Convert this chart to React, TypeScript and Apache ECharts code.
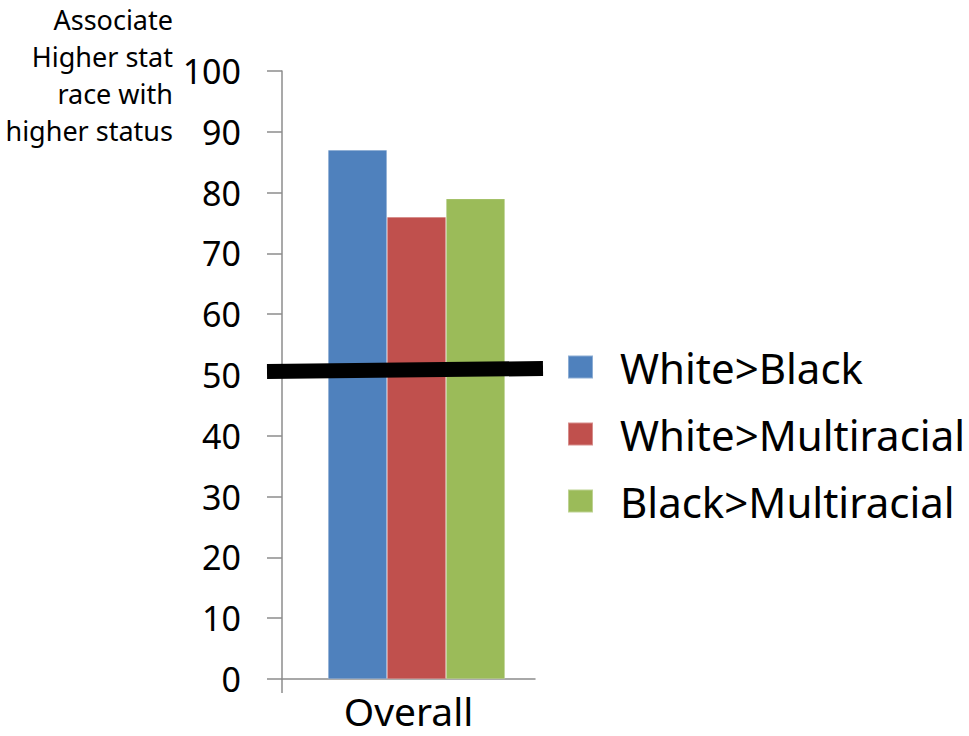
import React, { useEffect, useRef } from 'react';
import * as echarts from 'echarts';

const categories = ['Overall'];
const seriesNames = ['White>Black', 'White>Multiracial', 'Black>Multiracial'];
const whiteBlack = [87];
const whiteMultiracial = [76];
const blackMultiracial = [79];
const seriesColors = ['#4F81BD', '#C0504D', '#9BBB59'];
const yMin = 0;
const yMax = 100;
const yInterval = 10;
const referenceLevel = 50;
const titleLines = ['Associate', 'Higher stat', 'race with', 'higher status'];

const FONT = '"Noto Sans", "Open Sans", sans-serif';

export default function App() {
  const ref = useRef<HTMLDivElement>(null);

  useEffect(() => {
    if (!ref.current) return;
    const chart = echarts.init(ref.current, undefined, { renderer: 'svg' });
    const values = [whiteBlack, whiteMultiracial, blackMultiracial];
    const axisColor = '#8c8c8c';

    chart.setOption({
      animation: false,
      backgroundColor: '#ffffff',
      textStyle: { fontFamily: FONT },
      grid: [
        { left: 282, top: 71, width: 253, height: 608, containLabel: false },
        { left: 282, top: 71, width: 269, height: 608, containLabel: false },
      ],
      legend: {
        orient: 'vertical',
        left: 567,
        top: 345,
        padding: 0,
        icon: 'rect',
        itemWidth: 25,
        itemHeight: 23,
        itemGap: 23,
        data: seriesNames,
        textStyle: { fontFamily: FONT, fontSize: 42, color: '#000', padding: [0, 0, 0, 22], lineHeight: 44 },
      },
      xAxis: [
        {
          gridIndex: 0,
          type: 'category',
          data: categories,
          axisLine: { show: true, lineStyle: { color: axisColor, width: 1.5 } },
          axisTick: { show: false },
          axisLabel: { fontFamily: FONT, fontSize: 39, color: '#000', margin: 12, lineHeight: 39 },
        },
        { gridIndex: 1, type: 'category', data: categories, show: false },
      ],
      yAxis: [
        {
          gridIndex: 0,
          type: 'value',
          min: yMin,
          max: yMax,
          interval: yInterval,
          splitLine: { show: false },
          axisLine: { show: true, lineStyle: { color: axisColor, width: 1.5 } },
          axisTick: { show: true, length: 15, inside: false, lineStyle: { color: axisColor, width: 1.5 } },
          axisLabel: { fontFamily: FONT, fontSize: 34, color: '#000', margin: 41 },
        },
        { gridIndex: 1, type: 'value', min: yMin, max: yMax, show: false },
      ],
      series: seriesNames.map((name, i) => ({
        name,
        type: 'bar',
        xAxisIndex: 1,
        yAxisIndex: 1,
        data: values[i],
        barWidth: 59,
        barGap: '0%',
        itemStyle: { color: seriesColors[i], borderColor: 'rgba(255,255,255,0.35)', borderWidth: 0.6 },
      })),
    });

    const y0 = chart.convertToPixel({ yAxisIndex: 0 }, yMin) as number;
    const y50 = chart.convertToPixel({ yAxisIndex: 0 }, referenceLevel) as number;

    chart.setOption({
      graphic: [
        {
          type: 'line',
          shape: { x1: 282, y1: y0, x2: 282, y2: y0 + 14 },
          style: { stroke: axisColor, lineWidth: 1.5 },
        },
        {
          type: 'line',
          z: 100,
          shape: { x1: 267, y1: y50 - 3.5, x2: 543, y2: y50 - 6.5 },
          style: { stroke: '#000', lineWidth: 15, lineCap: 'butt' },
        },
        {
          type: 'text',
          x: 173,
          y: 75,
          style: {
            text: titleLines.join('\n'),
            align: 'right',
            verticalAlign: 'middle',
            fontFamily: FONT,
            fontSize: 27,
            lineHeight: 37,
            fill: '#000',
          },
        },
      ],
    });

    return () => chart.dispose();
  }, []);

  return (
    <div
      ref={ref}
      style={{ position: 'absolute', left: 0, top: 0, width: 969, height: 736, background: '#fff' }}
    />
  );
}
